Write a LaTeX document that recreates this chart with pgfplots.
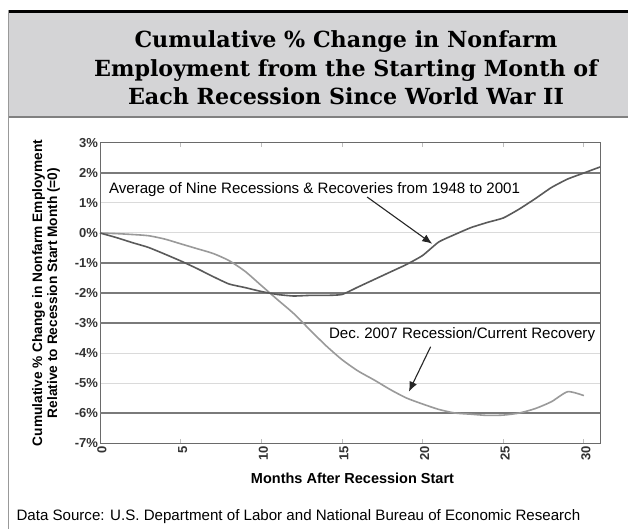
\documentclass[border=0pt]{standalone}
\usepackage{fontspec}
\setmainfont{Liberation Sans}
\newfontfamily\titlefont{DejaVu Serif}
\usepackage{pgfplots}
\pgfplotsset{compat=1.18}
\usetikzlibrary{arrows.meta}
\definecolor{titlegray}{HTML}{D4D4D6}
\definecolor{avgline}{HTML}{5A5A5A}
\definecolor{recline}{HTML}{9A9A9A}
\definecolor{darkgrid}{HTML}{7A7A7A}
\definecolor{lightgrid}{HTML}{DADADA}
\definecolor{framecol}{HTML}{6A6A6A}
\pgfplotstableread{
m v
0 0
1 -0.15
2 -0.32
3 -0.48
4 -0.70
5 -0.93
6 -1.18
7 -1.45
8 -1.70
9 -1.82
10 -1.95
11 -2.05
12 -2.10
13 -2.08
14 -2.08
15 -2.05
16 -1.80
17 -1.55
18 -1.30
19 -1.05
20 -0.75
21 -0.30
22 -0.05
23 0.18
24 0.35
25 0.50
26 0.80
27 1.15
28 1.52
29 1.80
30 2.00
31 2.20
}\avgdata
\pgfplotstableread{
m v
0 0
1 -0.02
2 -0.05
3 -0.09
4 -0.20
5 -0.36
6 -0.52
7 -0.68
8 -0.92
9 -1.28
10 -1.75
11 -2.22
12 -2.68
13 -3.22
14 -3.75
15 -4.22
16 -4.60
17 -4.90
18 -5.22
19 -5.50
20 -5.70
21 -5.88
22 -6.00
23 -6.04
24 -6.08
25 -6.07
26 -6.00
27 -5.85
28 -5.62
29 -5.29
30 -5.42
}\recdata
\begin{document}
\begin{tikzpicture}
\path[use as bounding box] (0,0) rectangle (628bp,-529bp);
\fill[white] (0,0) rectangle (628bp,-529bp);
\fill[titlegray] (8bp,-12bp) rectangle (628bp,-117bp);
\draw[black, line width=3bp] (8bp,-11.5bp) -- (628bp,-11.5bp);
\draw[gray, line width=1.2bp] (8bp,-117bp) -- (628bp,-117bp);
\draw[gray!80, line width=1bp] (8.5bp,-10bp) -- (8.5bp,-529bp);
\node[align=center, text=black, font=\titlefont\bfseries\fontsize{22.2bp}{28.5bp}\selectfont] at (346bp,-68bp)
  {Cumulative \% Change in Nonfarm\\Employment from the Starting Month of\\Each Recession Since World War II};
\node[anchor=west, font=\fontsize{15.1bp}{17bp}\selectfont] at (13bp,-517bp)
  {Data Source: U.S.\ Department of Labor and National Bureau of Economic Research};
\begin{axis}[
  at={(100bp,-443bp)}, anchor=south west,
  scale only axis, width=500bp, height=300bp,
  xmin=0, xmax=31, ymin=-7, ymax=3,
  axis line style={draw=framecol, line width=1bp},
  xtick={0,5,10,15,20,25,30},
  xticklabels={0,5,10,15,20,25,30},
  xtick align=inside, major tick length=4bp,
  xtick style={draw=lightgrid!70!gray, line width=0.8bp},
  x tick label style={rotate=90, anchor=east, yshift=-2bp, font=\bfseries\fontsize{13bp}{15bp}\selectfont, text=black!80},
  ytick={-7,-6,-5,-4,-3,-2,-1,0,1,2,3},
  yticklabels={-7\%,-6\%,-5\%,-4\%,-3\%,-2\%,-1\%,0\%,1\%,2\%,3\%},
  ytick style={draw=none},
  y tick label style={font=\bfseries\fontsize{13bp}{15bp}\selectfont, text=black!80, xshift=1.5bp},
  ymajorgrids, major grid style={draw=lightgrid, line width=1bp},
  extra y ticks={2,-1,-2,-3,-6},
  extra y tick labels={},
  extra y tick style={grid=major, major grid style={draw=darkgrid, line width=1.2bp}, ytick style={draw=none}},
  xlabel={Months After Recession Start},
  xlabel style={at={(axis description cs:0.505,-0.117)}, anchor=center, font=\bfseries\fontsize{14.5bp}{16bp}\selectfont},
  ylabel={Cumulative \% Change in Nonfarm Employment\\Relative to Recession Start Month (=0)},
  ylabel style={at={(axis description cs:-0.108,0.5)}, anchor=center, align=center, font=\bfseries\fontsize{13.7bp}{15bp}\selectfont},
  clip=false,
]
\addplot[recline, line width=1.6bp, smooth, tension=0.4] table[x=m,y=v] {\recdata};
\addplot[avgline, line width=1.6bp, smooth, tension=0.3] table[x=m,y=v] {\avgdata};
\node[font=\fontsize{15.1bp}{17bp}\selectfont] at (axis cs:13.3,1.45) {Average of Nine Recessions \& Recoveries from 1948 to 2001};
\draw[-{Latex[length=10bp,width=8bp]}, line width=1.1bp, black!85] (axis cs:16.56,1.2) -- (axis cs:20.6,-0.36);
\node[font=\fontsize{15.1bp}{17bp}\selectfont] at (axis cs:22.45,-3.4) {Dec.\ 2007 Recession/Current Recovery};
\draw[-{Latex[length=10bp,width=8bp]}, line width=1.1bp, black!85] (axis cs:20.5,-3.79) -- (axis cs:19.15,-5.29);
\end{axis}
\end{tikzpicture}
\end{document}
